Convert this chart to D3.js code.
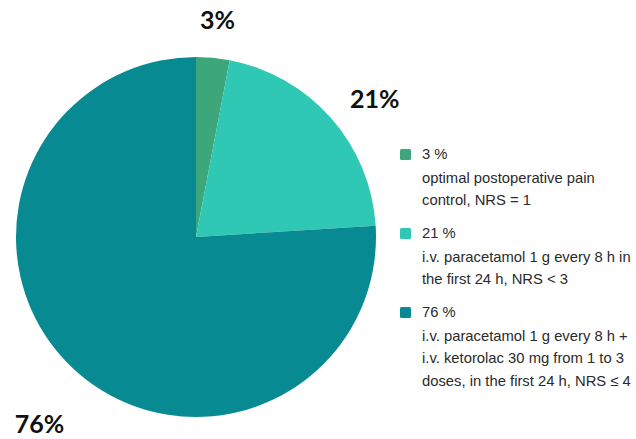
<!DOCTYPE html>
<html>
<head>
<meta charset="utf-8">
<script src="https://cdn.jsdelivr.net/npm/d3@7"></script>
<style>
  body { margin: 0; background: #fff; }
  svg { display: block; }
</style>
</head>
<body>
<div id="chart"></div>
<script>
const shares = [3, 21, 76]
const pieLabels = ["3%", "21%", "76%"]
const legendTitles = ["3 %", "21 %", "76 %"]
const legendLines = [
  ["optimal postoperative pain", "control, NRS = 1"],
  ["i.v. paracetamol 1 g every 8 h in", "the first 24 h, NRS < 3"],
  ["i.v. paracetamol 1 g every 8 h +", "i.v. ketorolac 30 mg from 1 to 3", "doses, in the first 24 h, NRS \u2264 4"]
]
const colors = ["#3da77b", "#2ec8b5", "#078a92"]

const width = 636
const height = 439
const cx = 196, cy = 237, radius = 180

const svg = d3.select("#chart")
  .append("svg")
  .attr("width", width)
  .attr("height", height)

const pie = d3.pie().sort(null).value(d => d)
const arcs = pie(shares)
const arc = d3.arc().innerRadius(0).outerRadius(radius)

const g = svg.append("g").attr("transform", `translate(${cx},${cy})`)

g.selectAll("path")
  .data(arcs)
  .join("path")
  .attr("d", arc)
  .attr("fill", (d, i) => colors[i])

// labels outside the rim: bigger slices sit further out,
// and each label relaxes a little toward the nearest axis
function labelPos(d) {
  const frac = (d.endAngle - d.startAngle) / (2 * Math.PI)
  const r = radius + 36 + 36 * frac
  const mid = (d.startAngle + d.endAngle) / 2
  const axis = Math.round(mid / (Math.PI / 2)) * (Math.PI / 2)
  const a = mid + 0.09 * (axis - mid)
  return [Math.sin(a) * r + 3 * Math.cos(a), -Math.cos(a) * r]
}

g.selectAll("text.lbl")
  .data(arcs)
  .join("text")
  .attr("class", "lbl")
  .attr("transform", d => `translate(${labelPos(d)})`)
  .attr("text-anchor", "middle")
  .attr("dy", "0.32em")
  .attr("font-family", "Lato, 'Open Sans', sans-serif")
  .attr("font-weight", "bold")
  .attr("font-size", 25)
  .attr("fill", "#111")
  .text((d, i) => pieLabels[i])

// legend
const legend = svg.append("g").attr("transform", "translate(400,0)")
const itemTop = [159, 238, 317]
const lineH = 22.5

const items = legend.selectAll("g.item")
  .data(shares)
  .join("g")
  .attr("class", "item")
  .attr("transform", (d, i) => `translate(0,${itemTop[i]})`)

items.append("rect")
  .attr("x", 0).attr("y", -10)
  .attr("width", 11).attr("height", 11)
  .attr("rx", 1.5)
  .attr("fill", (d, i) => colors[i])

items.append("text")
  .attr("font-family", "'Liberation Sans', Arial, sans-serif")
  .attr("font-size", 14.8)
  .attr("fill", "#2a2a2a")
  .selectAll("tspan")
  .data((d, i) => [legendTitles[i], ...legendLines[i]])
  .join("tspan")
  .attr("x", 22)
  .attr("y", (d, j) => j * lineH + (j > 0 ? 1 : 0))
  .text(d => d)
</script>
</body>
</html>
